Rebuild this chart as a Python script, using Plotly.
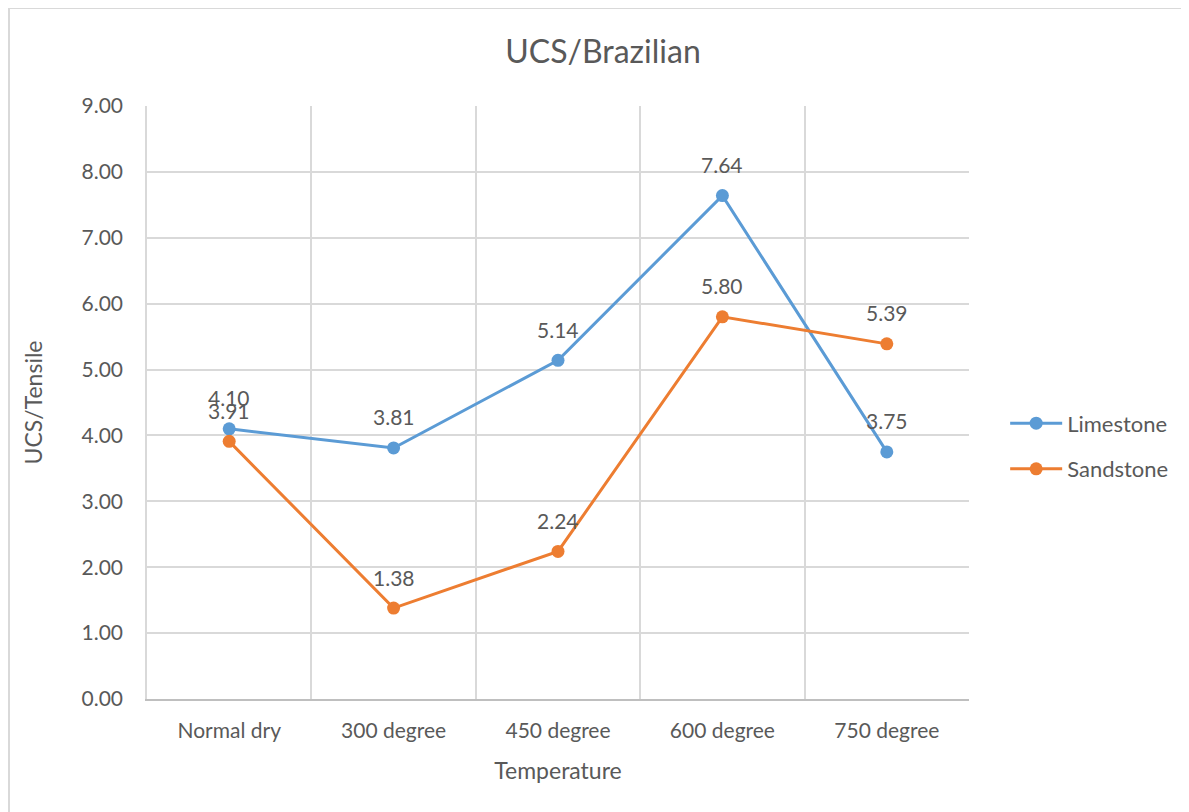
import plotly.graph_objects as go

categories = ["Normal dry", "300 degree", "450 degree", "600 degree", "750 degree"]
limestone = [4.10, 3.81, 5.14, 7.64, 3.75]
sandstone = [3.91, 1.38, 2.24, 5.80, 5.39]
series_names = ["Limestone", "Sandstone"]
series_colors = ["#5B9BD5", "#ED7D31"]
y_ticks = [0, 1, 2, 3, 4, 5, 6, 7, 8, 9]

FONT = "Lato, 'Open Sans', sans-serif"
GREY = "#595959"

W, H = 1181, 804
L, T, PW, PH = 139, 98, 822, 593
R = W - L - PW
B = H - T - PH

fig = go.Figure()
annotations = []
for name, vals, col in zip(series_names, [limestone, sandstone], series_colors):
    fig.add_trace(go.Scatter(
        x=categories, y=vals, name=name, mode="lines+markers",
        line=dict(color=col, width=3),
        marker=dict(color=col, size=13),
        legendgroup=name,
    ))
    for c, v in zip(categories, vals):
        annotations.append(dict(
            x=c, y=v, xref="x", yref="y", text=f"{v:.2f}", showarrow=False,
            yshift=31, font=dict(family=FONT, size=21, color=GREY),
        ))

fig.update_layout(
    width=W, height=H,
    margin=dict(l=L, r=R, t=T, b=B),
    paper_bgcolor="white", plot_bgcolor="white",
    font=dict(family=FONT, color=GREY),
    title=dict(text="UCS/Brazilian", x=595/W, xanchor="center", xref="container",
               y=1-44/H, yanchor="middle", yref="container",
               font=dict(family=FONT, size=32, color=GREY)),
    legend=dict(x=1.044, xanchor="left", y=0.426, yanchor="middle",
                font=dict(family=FONT, size=22, color=GREY),
                tracegroupgap=14, traceorder="grouped", itemwidth=52),
    annotations=annotations,
    shapes=[dict(type="rect", xref="paper", yref="paper",
                 x0=(1-L)/PW, x1=(W+20-L)/PW,
                 y0=(T+PH-(H+20))/PH, y1=(T+PH-0)/PH,
                 line=dict(color="#D9D9D9", width=2), fillcolor="rgba(0,0,0,0)",
                 layer="below")],
)

fig.update_xaxes(
    type="category", categoryorder="array", categoryarray=categories,
    range=[-0.5, 4.5], tickson="boundaries", showgrid=True, gridcolor="#D9D9D9", gridwidth=1.5,
    showline=True, linecolor="#BFBFBF", linewidth=1.5, ticks="",
    tickfont=dict(family=FONT, size=21, color=GREY), ticklabelstandoff=12,
    title=dict(text="Temperature", font=dict(family=FONT, size=23, color=GREY), standoff=22),
    zeroline=False,
)
fig.update_yaxes(
    range=[0, 9], tickvals=y_ticks, ticktext=[f"{t:.2f}" for t in y_ticks],
    showgrid=True, gridcolor="#D9D9D9", gridwidth=1.5,
    showline=True, linecolor="#D9D9D9", linewidth=1.5, ticks="",
    tickfont=dict(family=FONT, size=21, color=GREY), ticklabelstandoff=18,
    title=dict(text="UCS/Tensile", font=dict(family=FONT, size=23, color=GREY), standoff=32),
    zeroline=False,
)

fig.write_html("out.html")
